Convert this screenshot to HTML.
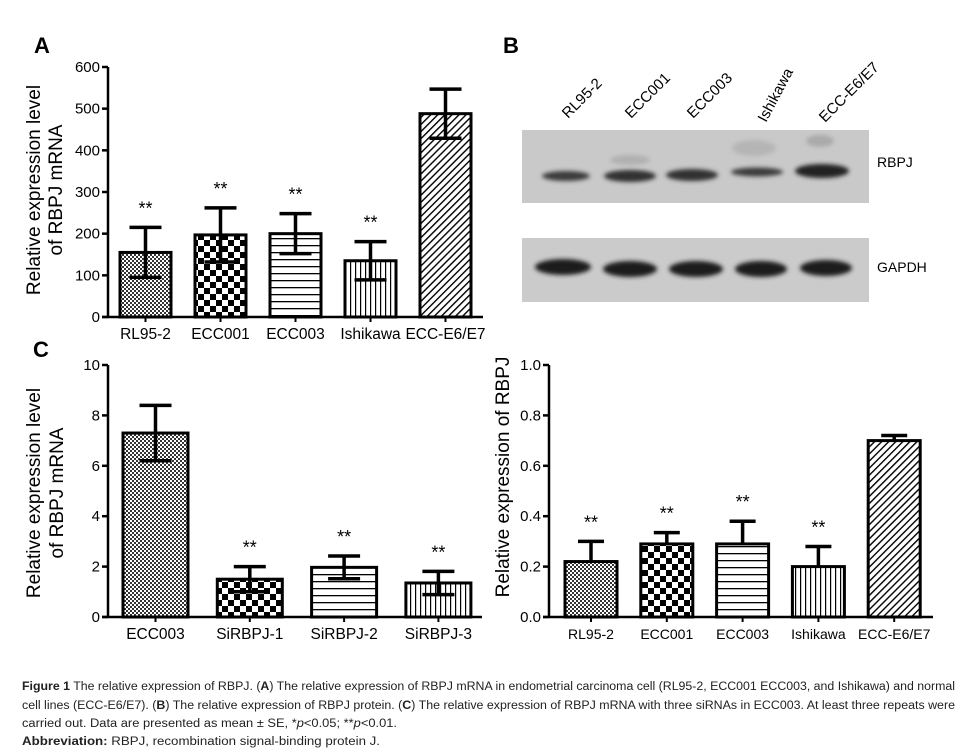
<!DOCTYPE html>
<html><head><meta charset="utf-8"><style>
body{margin:0;background:#fff;}
svg{display:block;font-family:"Liberation Sans",sans-serif;}
</style></head><body>
<svg id="fig" width="970" height="754" viewBox="0 0 970 754">
<defs>
<pattern id="pFine" width="4" height="4" patternUnits="userSpaceOnUse"><rect width="4" height="4" fill="#fff"/><rect width="2" height="2" fill="#333"/><rect x="2" y="2" width="2" height="2" fill="#333"/></pattern>
<pattern id="pCheck" width="12" height="12" patternUnits="userSpaceOnUse"><rect width="12" height="12" fill="#fff"/><rect width="6" height="6" fill="#000"/><rect x="6" y="6" width="6" height="6" fill="#000"/></pattern>
<pattern id="pHoriz" width="8" height="7" patternUnits="userSpaceOnUse"><rect width="8" height="7" fill="#fff"/><rect y="0" width="8" height="1.3" fill="#000"/></pattern>
<pattern id="pVert" width="5" height="8" patternUnits="userSpaceOnUse"><rect width="5" height="8" fill="#fff"/><rect x="0" width="1.2" height="8" fill="#000"/></pattern>
<pattern id="pDiag" width="5" height="5" patternUnits="userSpaceOnUse" patternTransform="rotate(45)"><rect width="5" height="5" fill="#fff"/><rect width="1.4" height="5" fill="#000"/></pattern>
<filter id="blur" x="-20%" y="-50%" width="140%" height="200%"><feGaussianBlur stdDeviation="2"/></filter>
</defs>

<text x="34" y="53" font-size="22" font-weight="bold">A</text>
<text x="503" y="53" font-size="22" font-weight="bold">B</text>
<text x="33" y="357" font-size="22" font-weight="bold">C</text>

<g>
<rect x="522" y="130" width="347" height="73" fill="#c9c9c9"/>
<rect x="522" y="238" width="347" height="64" fill="#cbcbcb"/>
<g filter="url(#blur)" fill="#2a2a2a">
<ellipse cx="566" cy="176" rx="24" ry="5" fill="#3a3a3a"/>
<ellipse cx="630" cy="176" rx="26" ry="6" fill="#333"/>
<ellipse cx="692" cy="175" rx="26" ry="6" fill="#333"/>
<ellipse cx="757" cy="172" rx="26" ry="4.5" fill="#3a3a3a"/>
<ellipse cx="822" cy="171" rx="27" ry="7" fill="#222"/>
<ellipse cx="820" cy="141" rx="14" ry="6" fill="#aaa"/>
<ellipse cx="754" cy="148" rx="22" ry="8" fill="#b5b5b5"/>
<ellipse cx="630" cy="160" rx="20" ry="5" fill="#b0b0b0"/>
<ellipse cx="563" cy="267" rx="28" ry="8" fill="#1a1a1a"/>
<ellipse cx="630" cy="269" rx="27" ry="8" fill="#1e1e1e"/>
<ellipse cx="696" cy="269" rx="27" ry="8" fill="#1e1e1e"/>
<ellipse cx="761" cy="269" rx="26" ry="8" fill="#1e1e1e"/>
<ellipse cx="826" cy="268" rx="26" ry="8" fill="#1e1e1e"/>
</g>
<text x="877" y="167" font-size="14">RBPJ</text>
<text x="877" y="272" font-size="14">GAPDH</text>
<g font-size="15">
<text transform="translate(568,119) rotate(-45)">RL95-2</text>
<text transform="translate(631,119) rotate(-45)">ECC001</text>
<text transform="translate(693,119) rotate(-45)">ECC003</text>
<text transform="translate(766,123) rotate(-62)">Ishikawa</text>
<text transform="translate(825,123) rotate(-45)">ECC-E6/E7</text>
</g>
</g>

<g id="chartA"></g>
<g id="chartC1"></g>
<g id="chartC2"></g>

<g font-size="11.5" fill="#222">
<text x="22" y="690" textLength="933" lengthAdjust="spacingAndGlyphs"><tspan font-weight="bold">Figure 1</tspan> The relative expression of RBPJ. (<tspan font-weight="bold">A</tspan>) The relative expression of RBPJ mRNA in endometrial carcinoma cell (RL95-2, ECC001 ECC003, and Ishikawa) and normal</text>
<text x="22" y="709" textLength="933" lengthAdjust="spacingAndGlyphs">cell lines (ECC-E6/E7). (<tspan font-weight="bold">B</tspan>) The relative expression of RBPJ protein. (<tspan font-weight="bold">C</tspan>) The relative expression of RBPJ mRNA with three siRNAs in ECC003. At least three repeats were</text>
<text x="22" y="727" textLength="375" lengthAdjust="spacingAndGlyphs">carried out. Data are presented as mean ± SE, *<tspan font-style="italic">p</tspan>&lt;0.05; **<tspan font-style="italic">p</tspan>&lt;0.01.</text>
<text x="22" y="745" textLength="358" lengthAdjust="spacingAndGlyphs"><tspan font-weight="bold">Abbreviation:</tspan> RBPJ, recombination signal-binding protein J.</text>
</g>
</svg>
<script>
const catsA = ["RL95-2","ECC001","ECC003","Ishikawa","ECC-E6/E7"];
const valsA = [155,197,200,135,488];
const errA = [60,65,48,46,59];
const sigA = [true,true,true,true,false];
const ticksA = [0,100,200,300,400,500,600];
const catsC1 = ["ECC003","SiRBPJ-1","SiRBPJ-2","SiRBPJ-3"];
const valsC1 = [7.3,1.5,1.97,1.35];
const errC1 = [1.1,0.5,0.45,0.46];
const sigC1 = [false,true,true,true];
const ticksC1 = [0,2,4,6,8,10];
const catsC2 = ["RL95-2","ECC001","ECC003","Ishikawa","ECC-E6/E7"];
const valsC2 = [0.22,0.29,0.29,0.20,0.70];
const errC2 = [0.08,0.045,0.09,0.08,0.02];
const sigC2 = [true,true,true,true,false];
const ticksC2 = ["0.0","0.2","0.4","0.6","0.8","1.0"];

const NS="http://www.w3.org/2000/svg";
function mk(parent,tag,attrs,text){const e=document.createElementNS(NS,tag);for(const k in attrs)e.setAttribute(k,attrs[k]);if(text!==undefined)e.textContent=text;parent.appendChild(e);return e;}

function drawChart(g,cfg){
  const y=v=>cfg.y0-(v-cfg.min)/(cfg.max-cfg.min)*(cfg.y0-cfg.yTop);
  const x=i=>cfg.xStart+i*cfg.step;
  cfg.vals.forEach((v,i)=>{
    const bx=x(i), top=y(v);
    const r=mk(g,'rect',{x:bx,y:top,width:cfg.bw,height:cfg.y0-top,fill:'url(#'+cfg.pats[i]+')',stroke:'#000','stroke-width':3});
    
    
    const cx=bx+cfg.bw/2, e=cfg.err[i];
    const eb=mk(g,'g',{stroke:'#000','stroke-width':3.5,fill:'none'});
    
    
    const lo=cfg.both?y(v-e):top;
    mk(eb,'line',{x1:cx,x2:cx,y1:y(v+e),y2:lo});
    mk(eb,'line',{x1:cx-cfg.cap,x2:cx+cfg.cap,y1:y(v+e),y2:y(v+e)});
    if(cfg.both) mk(eb,'line',{x1:cx-cfg.cap,x2:cx+cfg.cap,y1:y(v-e),y2:y(v-e)});
    if(cfg.sig[i]){
      const s=mk(g,'text',{x:cx,y:y(v+e)-13,'font-size':18,'text-anchor':'middle'},'**');
      
      
    }
    mk(g,'line',{x1:cx,x2:cx,y1:cfg.y0,y2:cfg.y0+5,stroke:'#000','stroke-width':2});
    const lb=mk(g,'text',{x:cx,y:cfg.y0+22,'font-size':cfg.xfs,'text-anchor':'middle'},cfg.cats[i]);
    
    
  });
  const ax=mk(g,'g',{stroke:'#000','stroke-width':2.5});
  
  
  mk(ax,'line',{x1:cfg.ax,x2:cfg.ax,y1:cfg.yTop,y2:cfg.y0});
  mk(ax,'line',{x1:cfg.ax-6,x2:cfg.xEnd,y1:cfg.y0,y2:cfg.y0});
  cfg.ticks.forEach(t=>{
    const ty=y(parseFloat(t));
    mk(ax,'line',{x1:cfg.ax-6,x2:cfg.ax,y1:ty,y2:ty});
    const tl=mk(g,'text',{x:cfg.ax-8,y:ty+5,'font-size':15,'text-anchor':'end'},String(t));
    
    
  });
  cfg.ylab.forEach((l,k)=>{
    const t=mk(g,'text',{transform:'translate('+cfg.ylx[k]+','+cfg.ylc+') rotate(-90)','font-size':19,'text-anchor':'middle'},l);
    
    
  });
}

drawChart(document.getElementById('chartA'),{cats:catsA,vals:valsA,err:errA,sig:sigA,ticks:ticksA,min:0,max:600,y0:317,yTop:67,ax:108,xStart:120,step:75,bw:51,xEnd:483,cap:16,both:true,xfs:15.5,
  pats:['pFine','pCheck','pHoriz','pVert','pDiag'],ylab:['Relative expression level','of RBPJ mRNA'],ylx:[40,62],ylc:190});
drawChart(document.getElementById('chartC1'),{cats:catsC1,vals:valsC1,err:errC1,sig:sigC1,ticks:ticksC1,min:0,max:10,y0:617,yTop:365,ax:108,xStart:123,step:94.3,bw:65,xEnd:482,cap:16,both:true,xfs:15.5,
  pats:['pFine','pCheck','pHoriz','pVert'],ylab:['Relative expression level','of RBPJ mRNA'],ylx:[40,63],ylc:493});
drawChart(document.getElementById('chartC2'),{cats:catsC2,vals:valsC2,err:errC2,sig:sigC2,ticks:ticksC2,min:0,max:1,y0:617,yTop:365,ax:549,xStart:565,step:75.8,bw:52,xEnd:933,cap:13,both:false,xfs:14,
  pats:['pFine','pCheck','pHoriz','pVert','pDiag'],ylab:['Relative expression of RBPJ'],ylx:[509],ylc:477});
</script>
</body></html>
